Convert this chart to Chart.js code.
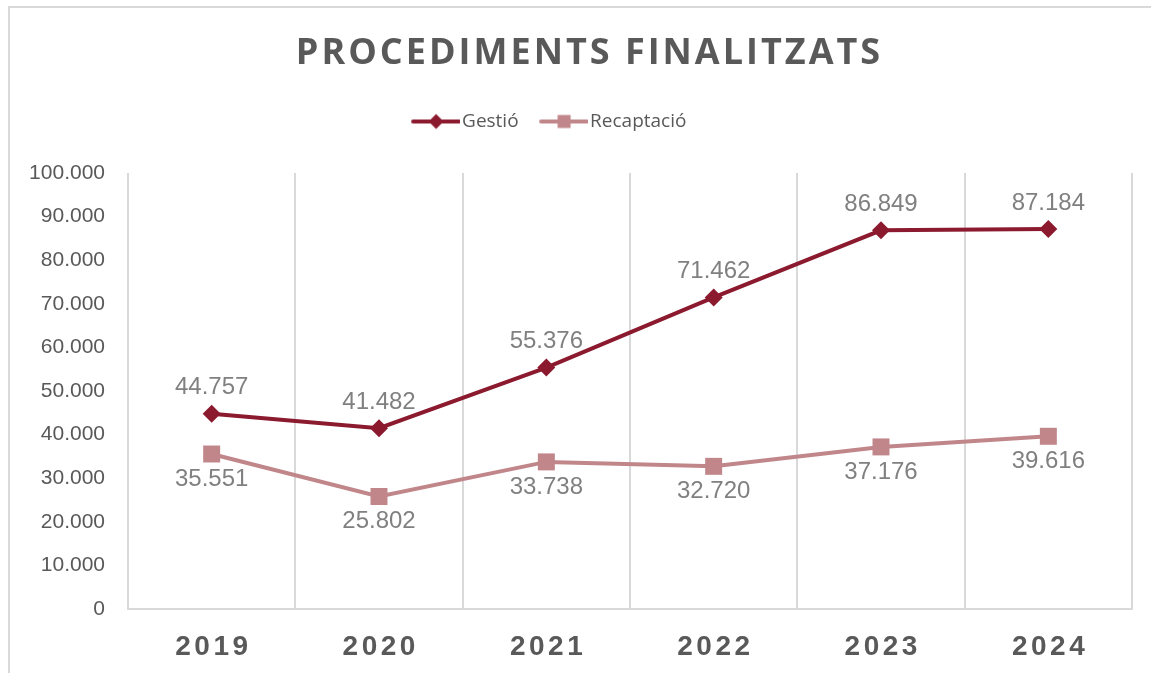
<!DOCTYPE html>
<html>
<head>
<meta charset="utf-8">
<script src="https://cdn.jsdelivr.net/npm/chart.js@4/dist/chart.umd.min.js"></script>
<style>
html,body{margin:0;padding:0;background:#fff;overflow:hidden}
#frame{position:absolute;left:8px;top:6px;width:1300px;height:800px;border-left:2px solid #D9D9D9;border-top:2px solid #D9D9D9;box-sizing:border-box}
#wrap{position:absolute;left:0;top:0;width:1151px;height:673px}
</style>
</head>
<body>
<div id="frame"></div>
<div id="wrap"><canvas id="c"></canvas></div>
<script>
// ---- data ----
const chartTitle = 'PROCEDIMENTS FINALITZATS';
const years = ['2019', '2020', '2021', '2022', '2023', '2024'];
const seriesNames = ['Gestió', 'Recaptació'];
const gestio = [44757, 41482, 55376, 71462, 86849, 87184];
const recaptacio = [35551, 25802, 33738, 32720, 37176, 39616];
const yTicks = [0, 10000, 20000, 30000, 40000, 50000, 60000, 70000, 80000, 90000, 100000];

// ---- styles ----
const GESTIO_COLOR = '#8C1A2F';
const RECAP_COLOR = '#C0868A';
const TEXT_DARK = '#595959';
const LABEL_GREY = '#808080';
const GRID = '#D9D9D9';

function fmt(v) {
  return String(v).replace(/\B(?=(\d{3})+(?!\d))/g, '.');
}

function legendIcon(color, style) {
  const c = document.createElement('canvas');
  c.width = 62; c.height = 20;
  const g = c.getContext('2d');
  g.strokeStyle = color; g.lineWidth = 4; g.lineCap = 'round';
  g.beginPath(); g.moveTo(15, 10); g.lineTo(61, 10); g.stroke();
  g.fillStyle = color;
  if (style === 'rectRot') {
    g.beginPath(); g.moveTo(38, 2.5); g.lineTo(45.5, 10); g.lineTo(38, 17.5); g.lineTo(30.5, 10); g.closePath(); g.fill();
  } else {
    g.fillRect(31.5, 3.5, 13, 13);
  }
  return c;
}
const legendIcons = [legendIcon(GESTIO_COLOR, 'rectRot'), legendIcon(RECAP_COLOR, 'rect')];

const valueLabels = {
  id: 'valueLabels',
  afterDatasetsDraw(chart) {
    const ctx = chart.ctx;
    ctx.save();
    ctx.font = '24px "Liberation Sans", Arial, sans-serif';
    ctx.fillStyle = LABEL_GREY;
    ctx.textAlign = 'center';
    ctx.textBaseline = 'middle';
    chart.data.datasets.forEach((ds, i) => {
      const meta = chart.getDatasetMeta(i);
      const off = i === 0 ? -26 : 25;
      meta.data.forEach((pt, j) => {
        ctx.fillText(fmt(ds.data[j]), pt.x, pt.y + off);
      });
    });
    ctx.restore();
  }
};

const layoutTweaks = {
  id: 'layoutTweaks',
  beforeLayout(chart) {
    const lg = chart.legend;
    if (lg && !lg.__p) {
      const f = lg.fit;
      lg.fit = function () {
        f.apply(this, arguments);
        this.height += 32;
        if (this.lineWidths) this.lineWidths[0] += 40;
      };
      lg.__p = true;
    }
    const tb = chart.titleBlock;
    if (tb && !tb.__p) {
      const d = tb.draw;
      tb.draw = function () {
        const c = this.ctx;
        c.save(); c.letterSpacing = '3px'; c.translate(23.5, 0);
        d.apply(this, arguments);
        c.restore();
      };
      tb.__p = true;
    }
  },
  afterLayout(chart) {
    const s = chart.scales.x;
    if (s && !s.__p) {
      const d = s.drawLabels;
      s.drawLabels = function () {
        const c = this.ctx;
        c.save(); c.letterSpacing = '3.5px'; c.translate(1.75, 0);
        d.apply(this, arguments);
        c.restore();
      };
      s.__p = true;
    }
  }
};

new Chart(document.getElementById('c'), {
  type: 'line',
  data: {
    labels: years,
    datasets: [
      {
        label: seriesNames[0], data: gestio,
        borderColor: GESTIO_COLOR, backgroundColor: GESTIO_COLOR,
        borderWidth: 4, tension: 0,
        pointStyle: 'rectRot', pointRadius: 9, pointBorderWidth: 0,
        pointBackgroundColor: GESTIO_COLOR
      },
      {
        label: seriesNames[1], data: recaptacio,
        borderColor: RECAP_COLOR, backgroundColor: RECAP_COLOR,
        borderWidth: 4, tension: 0,
        pointStyle: 'rect', pointRadius: 12, pointBorderWidth: 0,
        pointBackgroundColor: RECAP_COLOR
      }
    ]
  },
  options: {
    responsive: true,
    maintainAspectRatio: false,
    animation: false,
    devicePixelRatio: 1,
    layout: { padding: { left: 0, right: 19, top: 0, bottom: 0 } },
    plugins: {
      title: {
        display: true, text: chartTitle, color: TEXT_DARK,
        font: { family: '"Open Sans", sans-serif', size: 36, weight: 'bold', lineHeight: 1.2 },
        padding: { top: 32, bottom: 21.8 }
      },
      legend: {
        display: true, position: 'top',
        labels: {
          usePointStyle: true, pointStyleWidth: 47, padding: 15,
          color: TEXT_DARK,
          font: { family: '"Open Sans", sans-serif', size: 19 },
          generateLabels(chart) {
            return chart.data.datasets.map((ds, i) => ({
              text: ds.label, fillStyle: ds.borderColor, strokeStyle: ds.borderColor,
              lineWidth: 0, pointStyle: legendIcons[i], datasetIndex: i, hidden: false,
              fontColor: TEXT_DARK
            }));
          }
        }
      },
      tooltip: { enabled: false }
    },
    scales: {
      x: {
        type: 'category', offset: true,
        grid: { display: true, offset: true, color: GRID, lineWidth: 2, drawTicks: false },
        border: { display: true, color: GRID, width: 2 },
        ticks: {
          color: TEXT_DARK, padding: 21, maxRotation: 0,
          font: { family: '"Liberation Sans", Arial, sans-serif', size: 28, weight: 'bold' }
        },
        afterFit(s) { s.height = 64; }
      },
      y: {
        min: 0, max: 100000,
        afterBuildTicks(s) { s.ticks = yTicks.map(v => ({ value: v })); },
        ticks: {
          color: TEXT_DARK, padding: 23,
          font: { family: '"Liberation Sans", Arial, sans-serif', size: 21 },
          callback: v => fmt(v)
        },
        grid: { display: false, drawTicks: false },
        border: { display: false },
        afterFit(s) { s.width = 128; }
      }
    }
  },
  plugins: [valueLabels, layoutTweaks]
});
</script>
</body>
</html>
